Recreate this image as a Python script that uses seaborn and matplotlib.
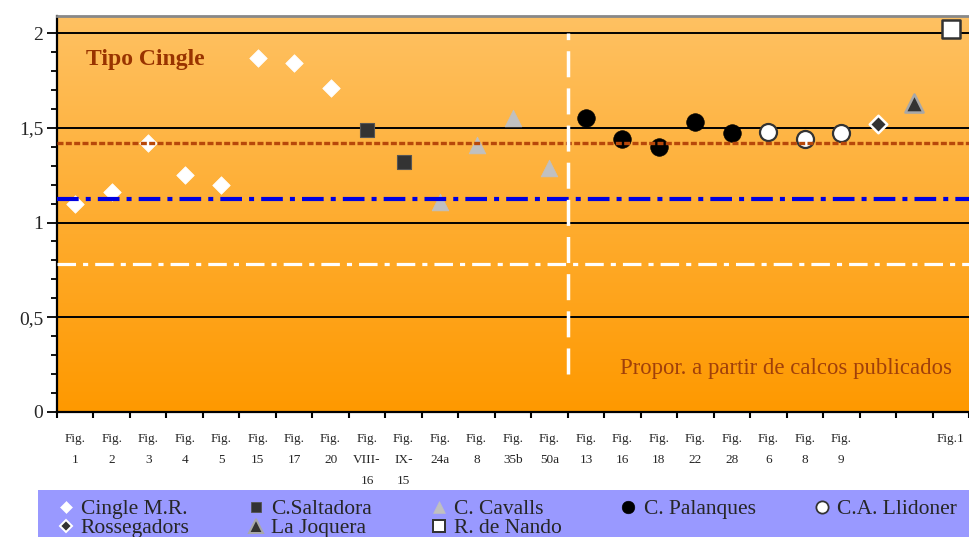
import numpy as np
import pandas as pd
import matplotlib
matplotlib.use("Agg")
import matplotlib.pyplot as plt
import seaborn as sns
from matplotlib.lines import Line2D
from matplotlib.patches import Rectangle
from matplotlib.colors import LinearSegmentedColormap
from matplotlib.ticker import MultipleLocator, FixedLocator, FuncFormatter

# Figure labels along the x axis, one slot each
categories = ["Fig.\n1", "Fig.\n2", "Fig.\n3", "Fig.\n4", "Fig.\n5", "Fig.\n15",
              "Fig.\n17", "Fig.\n20", "Fig.\nVIII-\n16", "Fig.\nIX-\n15", "Fig.\n24a",
              "Fig.\n8", "Fig.\n35b", "Fig.\n50a", "Fig.\n13", "Fig.\n16", "Fig.\n18",
              "Fig.\n22", "Fig.\n28", "Fig.\n6", "Fig.\n8", "Fig.\n9", "", "", "Fig.1"]

# Proportion values per site, in slot order
cingle_mr = [1.10, 1.16, 1.42, 1.25, 1.20, 1.87, 1.84, 1.71]
c_saltadora = [1.49, 1.32]
c_cavalls = [1.11, 1.41, 1.55, 1.29]
c_palanques = [1.55, 1.44, 1.40, 1.53, 1.47]
ca_llidoner = [1.48, 1.44, 1.47]
rossegadors = [1.52]
la_joquera = [1.63]
r_de_nando = [2.02]

series_names = ["Cingle M.R.", "C.Saltadora", "C. Cavalls", "C. Palanques",
                "C.A. Llidoner", "Rossegadors", "La Joquera", "R. de Nando"]
series_values = [cingle_mr, c_saltadora, c_cavalls, c_palanques,
                 ca_llidoner, rossegadors, la_joquera, r_de_nando]

# Reference levels
level_brown = 1.42
level_blue = 1.125
level_white = 0.78
divider_slot = 13.5
divider_span = (0.2, 2.0)

rows = []
slot = 0
for name, vals in zip(series_names, series_values):
    for v in vals:
        rows.append({"slot": slot, "series": name, "value": v})
        slot += 1
df = pd.DataFrame(rows)

styles = {
    "Cingle M.R.":   dict(marker="D", s=80,  color="white",   edgecolor="white",   linewidth=0.5),
    "C.Saltadora":   dict(marker="s", s=110, color="#333333", edgecolor="#555555", linewidth=0.8),
    "C. Cavalls":    dict(marker="^", s=145, color="#C0C0C0", edgecolor="#C0C0C0", linewidth=0.5),
    "C. Palanques":  dict(marker="o", s=160, color="black",   edgecolor="black",   linewidth=0.5),
    "C.A. Llidoner": dict(marker="o", s=150, color="white",   edgecolor="#333333", linewidth=1.6),
    "Rossegadors":   dict(marker="D", s=80,  color="#333333", edgecolor="white",   linewidth=1.8),
    "La Joquera":    dict(marker="^", s=170, color="#333333", edgecolor="#A8A8A8", linewidth=1.8),
    "R. de Nando":   dict(marker="s", s=150, color="white",   edgecolor="#333333", linewidth=1.8),
}

sns.set_theme(style="white")
plt.rcParams["font.family"] = ["Liberation Serif", "DejaVu Serif"]

fig = plt.figure(figsize=(9.69, 5.37), dpi=100)
ax = fig.add_axes([57 / 969, 125 / 537, 912 / 969, 396 / 537])

xmin, xmax = -0.5, len(categories) - 0.5
ymin, ymax = 0.0, 2.09

# Orange vertical gradient background
cmap = LinearSegmentedColormap.from_list("bg", ["#FF9900", "#FEC162"])
grad = np.linspace(0, 1, 256).reshape(-1, 1)
ax.imshow(grad, extent=[xmin, xmax, ymin, ymax], origin="lower", aspect="auto",
          cmap=cmap, zorder=0, interpolation="bicubic")

# Horizontal grid lines
for g in [0.5, 1.0, 1.5, 2.0]:
    ax.axhline(g, color="black", lw=1.4, zorder=1)

for name in series_names:
    sub = df[df["series"] == name]
    sns.scatterplot(data=sub, x="slot", y="value", ax=ax, legend=False, zorder=3,
                    **styles[name])

ax.axhline(level_brown, color="#B8480A", lw=2.4, ls=(0, (1.8, 0.7)), zorder=4)
ax.axhline(level_blue, color="#0000E0", lw=3.0, ls=(0, (5.2, 1.7, 1.2, 1.7)), zorder=4)
ax.axhline(level_white, color="white", lw=2.3, ls=(0, (5.8, 2.2, 1.6, 2.2)), zorder=4)
ax.plot([divider_slot, divider_slot], list(divider_span), color="white", lw=2.5,
        ls=(0, (7.5, 3.2)), zorder=4)

ax.text(0.3, 1.86, "Tipo Cingle", fontsize=17, fontweight="bold", color="#993300",
        va="center", ha="left", zorder=5)
ax.text(24.03, 0.232, "Propor. a partir de calcos publicados", fontsize=16.4,
        color="#A0400A", va="center", ha="right", zorder=5)

ax.set_xlim(xmin, xmax)
ax.set_ylim(ymin, ymax)
ax.set_xlabel("")
ax.set_ylabel("")

ax.set_xticks(range(len(categories)))
ax.set_xticklabels(categories, fontsize=9.5, linespacing=2.0, va="top")
ax.xaxis.set_minor_locator(FixedLocator(np.arange(-0.5, len(categories), 1.0)))
ax.tick_params(axis="x", which="major", length=0, pad=15)
ax.tick_params(axis="x", which="minor", length=4, width=1.5, direction="out",
               color="black", bottom=True)

ax.yaxis.set_major_locator(MultipleLocator(0.5))
ax.yaxis.set_minor_locator(MultipleLocator(0.1))
ax.yaxis.set_major_formatter(FuncFormatter(lambda v, p: f"{v:g}".replace(".", ",")))
ax.tick_params(axis="y", which="major", length=7, width=1.3, direction="out",
               labelsize=14, pad=3, left=True, color="black")
ax.tick_params(axis="y", which="minor", length=4, width=1.3, direction="out",
               left=True, color="black")

for side in ["left", "bottom"]:
    ax.spines[side].set_color("black")
    ax.spines[side].set_linewidth(1.6)
ax.spines["top"].set_color("#888888")
ax.spines["top"].set_linewidth(2)
ax.spines["right"].set_visible(False)

# Legend panel
fig.patches.append(Rectangle((38 / 969, 0), 1 - 38 / 969, 47 / 537,
                             transform=fig.transFigure, facecolor="#9999FF",
                             edgecolor="none", zorder=0))
order = ["Cingle M.R.", "Rossegadors", "C.Saltadora", "La Joquera",
         "C. Cavalls", "R. de Nando", "C. Palanques", "C.A. Llidoner"]
handles = []
for name in order:
    st = styles[name]
    handles.append(Line2D([], [], ls="none", marker=st["marker"],
                          markersize=np.sqrt(st["s"]) * 0.72,
                          markerfacecolor=st["color"], markeredgecolor=st["edgecolor"],
                          markeredgewidth=st["linewidth"] * 0.8, label=name))
fig.legend(handles=handles, loc="upper left", bbox_to_anchor=(58 / 969, 1 - 499 / 537),
           ncol=5, frameon=False, fontsize=15.5, borderpad=0, borderaxespad=0,
           handlelength=0.7, handletextpad=0.35, columnspacing=2.75, labelspacing=-0.03)

fig.savefig("out.png", dpi=100)
